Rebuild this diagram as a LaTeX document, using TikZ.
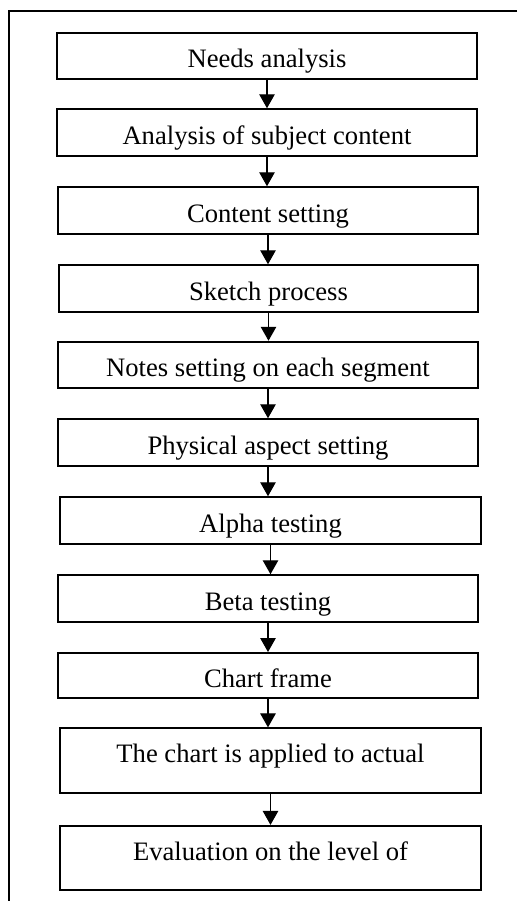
\documentclass[tikz,border=0pt]{standalone}
\usepackage{fontspec}
\setmainfont{Liberation Serif}
\usetikzlibrary{arrows.meta}

\begin{document}
\begin{tikzpicture}[x=0.451pt, y=-0.451pt, >={Triangle[width=7pt,length=6.3pt]},
  stage/.style={draw, line width=0.9pt, minimum width=189.4pt, minimum height=21pt,
    inner sep=0pt, font=\fontsize{12}{14}\selectfont, text height=12pt, text depth=1.2pt},
  tall/.style={minimum width=189.9pt, minimum height=29pt, text height=8pt, text depth=5.8pt},
  flow/.style={->, line width=0.5pt}]
  \useasboundingbox (0,0) rectangle (517,901);
  % frame
  \draw [line width=0.9pt] (517,11) -- (9,11) -- (9,901);
  % stages
  \node [stage] (needs) at (267,56) {Needs analysis};
  \node [stage] (subject) at (267,132.5) {Analysis of subject content};
  \node [stage] (content) at (268,210.5) {Content setting};
  \node [stage] (sketch) at (268.5,288.5) {Sketch process};
  \node [stage] (notes) at (268,365) {Notes setting on each segment};
  \node [stage] (physical) at (268,442.5) {Physical aspect setting};
  \node [stage, minimum width=189.9pt] (alpha) at (270.5,520.5) {Alpha testing};
  \node [stage] (beta) at (268,598.5) {Beta testing};
  \node [stage, minimum height=20.3pt] (frame) at (268,675.5) {Chart frame};
  \node [stage, tall] (applied) at (270.5,760.5) {The chart is applied to actual};
  \node [stage, tall] (evaluation) at (270.5,858) {Evaluation on the level of};
  % arrows
  \draw [flow] (needs.south) -- (needs.south |- subject.north);
  \draw [flow] (subject.south) -- (subject.south |- content.north);
  \draw [flow] (content.south) -- (content.south |- sketch.north);
  \draw [flow] (sketch.south) -- (sketch.south |- notes.north);
  \draw [flow] (notes.south) -- (notes.south |- physical.north);
  \draw [flow] (physical.south) -- (physical.south |- alpha.north);
  \draw [flow] (alpha.south) -- (alpha.south |- beta.north);
  \draw [flow] (beta.south) -- (beta.south |- frame.north);
  \draw [flow] (frame.south) -- (frame.south |- applied.north);
  \draw [flow] (applied.south) -- (applied.south |- evaluation.north);
\end{tikzpicture}
\end{document}
